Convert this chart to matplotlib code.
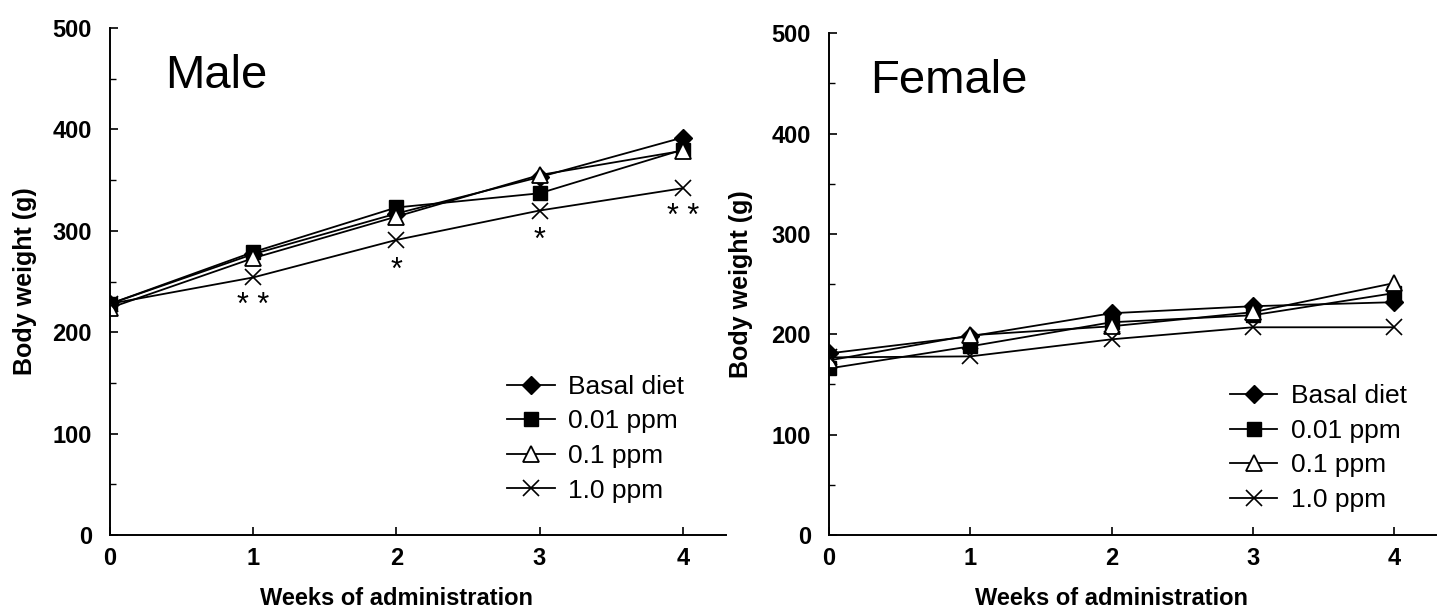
import numpy as np
import matplotlib as mpl
import matplotlib.pyplot as plt
from matplotlib.ticker import MultipleLocator

# ── data ─────────────────────────────────────────────────────────────────────
weeks = [0, 1, 2, 3, 4]
series_labels = ['Basal diet', '0.01 ppm', '0.1 ppm', '1.0 ppm']

male_basal = [228, 277, 317, 353, 392]
male_001   = [228, 279, 323, 337, 380]
male_01    = [224, 273, 314, 355, 379]
male_10    = [228, 254, 291, 320, 342]

female_basal = [181, 198, 221, 228, 232]
female_001   = [166, 188, 212, 219, 241]
female_01    = [174, 199, 208, 222, 251]
female_10    = [177, 178, 195, 207, 207]

# significance marks (male, 1.0 ppm group)
sig_weeks  = [1, 2, 3, 4]
sig_marks  = ['* *', '*', '*', '* *']
sig_yvals  = [226, 260, 290, 314]

# ── style ────────────────────────────────────────────────────────────────────
plt.rcParams['font.family'] = ['Liberation Sans', 'DejaVu Sans']

styles = [
    dict(marker='D', markersize=9,  markerfacecolor='black', markeredgecolor='black'),
    dict(marker='s', markersize=9.5, markerfacecolor='black', markeredgecolor='black'),
    dict(marker='^', markersize=11, markerfacecolor='white', markeredgecolor='black',
         markeredgewidth=1.3),
    dict(marker='x', markersize=12, markeredgecolor='black', markeredgewidth=1.2),
]


def draw_panel(ax, data, title, title_x, legend_anchor):
    for vals, lab, st in zip(data, series_labels, styles):
        ax.plot(weeks, vals, color='black', linewidth=1.3, label=lab, **st)

    ax.set_xlim(0, 4.3)
    ax.set_ylim(0, 500)
    ax.set_xticks(weeks)
    ax.set_yticks([0, 100, 200, 300, 400, 500])
    ax.yaxis.set_minor_locator(MultipleLocator(50))
    for side in ('top', 'right'):
        ax.spines[side].set_visible(False)
    for side in ('left', 'bottom'):
        ax.spines[side].set_linewidth(1.4)
    ax.tick_params(axis='both', which='major', direction='in', length=6, width=1.2,
                   labelsize=17)
    ax.tick_params(axis='y', which='major', pad=13)
    ax.tick_params(axis='x', which='major', pad=9)
    ax.tick_params(axis='y', which='minor', direction='in', length=4, width=1.0)
    for lab in ax.get_xticklabels() + ax.get_yticklabels():
        lab.set_fontweight('bold')
    ax.set_xlabel('Weeks of administration', fontsize=17, fontweight='bold')
    ax.xaxis.set_label_coords(2 / 4.3, -0.103)
    ax.set_ylabel('Body weight (g)', fontsize=18, fontweight='bold')
    ax.text(title_x, 0.905, title, transform=ax.transAxes, fontsize=34,
            ha='left', va='center')
    ax.legend(loc='center left', bbox_to_anchor=legend_anchor, frameon=False,
              fontsize=19, handlelength=1.8, handletextpad=0.5, labelspacing=0.4,
              borderpad=0, borderaxespad=0)


fig = plt.figure(figsize=(14.37, 6.16), dpi=100)
ax1 = fig.add_axes([0.0765, 0.1315, 0.4285, 0.823])
ax2 = fig.add_axes([0.577, 0.1315, 0.4225, 0.8145])

draw_panel(ax1, [male_basal, male_001, male_01, male_10], 'Male', 0.09, (0.645, 0.19))
draw_panel(ax2, [female_basal, female_001, female_01, female_10], 'Female', 0.068,
           (0.66, 0.173))
ax1.yaxis.set_label_coords(-0.118, 0.5)
ax2.yaxis.set_label_coords(-0.125, 0.5)

for w, m, y in zip(sig_weeks, sig_marks, sig_yvals):
    ax1.text(w, y, m, ha='center', va='center', fontsize=22)

fig.savefig('out.png', dpi=100)
